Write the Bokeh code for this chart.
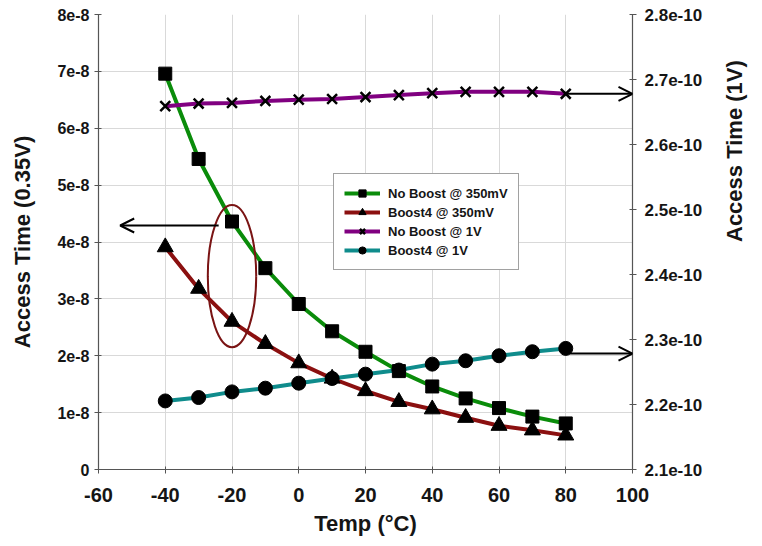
import math
from bokeh.plotting import figure
from bokeh.models import (Range1d, LinearAxis, FixedTicker, CustomJSTickFormatter,
                          Arrow, OpenHead, Legend, LegendItem)
from bokeh.embed import file_html
from bokeh.resources import INLINE

# ---- data ----
temps = [-40, -30, -20, -10, 0, 10, 20, 30, 40, 50, 60, 70, 80]
no_boost_350mv = [6.96e-8, 5.46e-8, 4.36e-8, 3.54e-8, 2.91e-8, 2.43e-8, 2.07e-8,
                  1.73e-8, 1.46e-8, 1.25e-8, 1.08e-8, 0.93e-8, 0.81e-8]
boost4_350mv = [3.91e-8, 3.18e-8, 2.60e-8, 2.21e-8, 1.87e-8, 1.60e-8, 1.38e-8,
                1.19e-8, 1.06e-8, 0.91e-8, 0.77e-8, 0.69e-8, 0.60e-8]
no_boost_1v = [2.659e-10, 2.663e-10, 2.664e-10, 2.667e-10, 2.669e-10, 2.670e-10, 2.673e-10,
               2.676e-10, 2.679e-10, 2.681e-10, 2.681e-10, 2.681e-10, 2.678e-10]
boost4_1v = [2.2055e-10, 2.2107e-10, 2.2194e-10, 2.2251e-10, 2.2328e-10, 2.2400e-10, 2.2467e-10,
             2.2530e-10, 2.2621e-10, 2.2673e-10, 2.2750e-10, 2.2812e-10, 2.2863e-10]

x_ticks = [-60, -40, -20, 0, 20, 40, 60, 80, 100]
left_ticks = [0, 1e-8, 2e-8, 3e-8, 4e-8, 5e-8, 6e-8, 7e-8, 8e-8]
right_ticks = [2.1e-10, 2.2e-10, 2.3e-10, 2.4e-10, 2.5e-10, 2.6e-10, 2.7e-10, 2.8e-10]

# annotation: left-pointing arrow and ellipse around the 0.35V curves
left_arrow_y = 4.29e-8
left_arrow_x = (-24, -53.5)
ellipse_center = (-20, 3.40e-8)
ellipse_size = (14.5, 2.5e-8)

FONT = "Liberation Sans"
TXT = "#151515"

p = figure(width=762, height=538, output_backend="svg", toolbar_location=None,
           x_range=Range1d(x_ticks[0], x_ticks[-1]),
           y_range=Range1d(left_ticks[0], left_ticks[-1]),
           min_border_left=98, min_border_right=129, min_border_top=14, min_border_bottom=68)
p.extra_y_ranges = {"right": Range1d(right_ticks[0], right_ticks[-1])}
p.outline_line_color = None
p.background_fill_color = "white"

fmt_code = """
if (Math.abs(tick) < 1e-30) { return "0"; }
const e = Math.floor(Math.log10(Math.abs(tick)) + 1e-9);
const m = Math.round(tick / Math.pow(10, e) * 10) / 10;
return m + "e" + e;
"""

right_axis = LinearAxis(y_range_name="right")
p.add_layout(right_axis, "right")

for ax in [p.xaxis[0], p.yaxis[0], right_axis]:
    ax.axis_line_color = "#555555"
    ax.axis_line_width = 1.2
    ax.major_tick_line_color = "#555555"
    ax.major_tick_in = 3
    ax.major_tick_out = 4
    ax.minor_tick_line_color = None
    ax.major_label_text_font = FONT
    ax.major_label_text_font_style = "bold"
    ax.major_label_text_font_size = "16px"
    ax.major_label_text_color = TXT
    ax.axis_label_text_font = FONT
    ax.axis_label_text_font_style = "bold"
    ax.axis_label_text_font_size = "22px"
    ax.axis_label_text_color = TXT

p.xaxis.ticker = FixedTicker(ticks=x_ticks)
p.xaxis.formatter = CustomJSTickFormatter(code="return tick.toString();")
p.xaxis.major_label_text_font_size = "20px"
p.xaxis.axis_label = "Temp (°C)"
p.xaxis.axis_label_standoff = 6
p.xaxis.major_label_standoff = 14

p.yaxis[0].ticker = FixedTicker(ticks=left_ticks)
p.yaxis[0].formatter = CustomJSTickFormatter(code=fmt_code)
p.yaxis[0].axis_label = "Access Time (0.35V)"
p.yaxis[0].axis_label_standoff = 19

right_axis.ticker = FixedTicker(ticks=right_ticks)
right_axis.formatter = CustomJSTickFormatter(code=fmt_code)
right_axis.major_label_text_font_size = "17px"
right_axis.axis_label = "Access Time (1V)"
right_axis.axis_label_standoff = 29
right_axis.major_label_standoff = 8
right_axis.axis_label_orientation = math.pi / 2

p.xgrid.ticker = FixedTicker(ticks=x_ticks)
p.ygrid.ticker = FixedTicker(ticks=left_ticks)
for g in [p.xgrid[0], p.ygrid[0]]:
    g.grid_line_color = "#d9d9d9"
    g.grid_line_width = 1

GREEN = "#0a8c0a"
RED = "#8b1010"
PURPLE = "#800080"
TEAL = "#0f8c8c"

items = []
l1 = p.line(temps, no_boost_350mv, line_color=GREEN, line_width=4)
s1 = p.scatter(temps, no_boost_350mv, marker="square", size=13, fill_color="black", line_color="black")
items.append(LegendItem(label="No Boost @ 350mV", renderers=[l1, s1]))

l2 = p.line(temps, boost4_350mv, line_color=RED, line_width=4)
s2 = p.scatter(temps, boost4_350mv, marker="triangle", size=16, fill_color="black", line_color="black")
items.append(LegendItem(label="Boost4 @ 350mV", renderers=[l2, s2]))

l3 = p.line(temps, no_boost_1v, line_color=PURPLE, line_width=4, y_range_name="right")
s3 = p.scatter(temps, no_boost_1v, marker="x", size=14, line_color="black", line_width=2.5,
               y_range_name="right")
items.append(LegendItem(label="No Boost @ 1V", renderers=[l3, s3]))

l4 = p.line(temps, boost4_1v, line_color=TEAL, line_width=4, y_range_name="right")
s4 = p.scatter(temps, boost4_1v, marker="circle", size=14, fill_color="black", line_color="black",
               y_range_name="right")
items.append(LegendItem(label="Boost4 @ 1V", renderers=[l4, s4]))

# ellipse and arrows
p.ellipse(x=[ellipse_center[0]], y=[ellipse_center[1]], width=ellipse_size[0], height=ellipse_size[1],
          fill_color=None, line_color="#7a1414", line_width=2)

p.add_layout(Arrow(end=OpenHead(size=14, line_width=2, line_color="black"),
                   x_start=left_arrow_x[0], y_start=left_arrow_y,
                   x_end=left_arrow_x[1], y_end=left_arrow_y,
                   line_width=2, line_color="black"))
p.add_layout(Arrow(end=OpenHead(size=14, line_width=2, line_color="black"),
                   x_start=temps[-1], y_start=no_boost_1v[-1],
                   x_end=x_ticks[-1], y_end=no_boost_1v[-1],
                   line_width=2, line_color="black", y_range_name="right"))
p.add_layout(Arrow(end=OpenHead(size=14, line_width=2, line_color="black"),
                   x_start=temps[-1], y_start=boost4_1v[-1] - 0.008e-10,
                   x_end=x_ticks[-1], y_end=boost4_1v[-1] - 0.008e-10,
                   line_width=2, line_color="black", y_range_name="right"))

legend = Legend(items=items, location=(235, 199))
legend.label_text_font = FONT
legend.label_text_font_style = "bold"
legend.label_text_font_size = "13px"
legend.label_text_color = TXT
legend.glyph_width = 36
legend.glyph_height = 18
legend.label_height = 18
legend.label_standoff = 8
legend.spacing = 1
legend.padding = 10
legend.margin = 0
legend.border_line_color = "#444444"
legend.border_line_width = 1
legend.background_fill_color = "white"
legend.background_fill_alpha = 1
p.add_layout(legend, "center")

open("out.html", "w").write(file_html(p, INLINE))
